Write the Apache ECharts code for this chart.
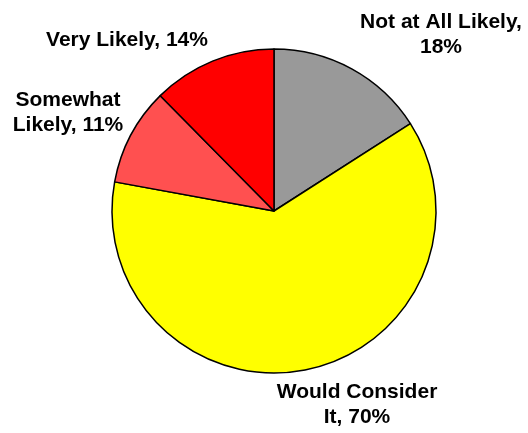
<!DOCTYPE html>
<html>
<head>
<meta charset="utf-8">
<script src="https://cdn.jsdelivr.net/npm/echarts@6/dist/echarts.min.js"></script>
<style>html,body{margin:0;padding:0;background:#fff;}#c{width:528px;height:433px;}</style>
</head>
<body>
<div id="c"></div>
<script>
var categories = ['Not at All Likely', 'Would Consider It', 'Somewhat Likely', 'Very Likely'];
var values = [18, 70, 11, 14];
var colors = ['#999999', '#FFFF00', '#FF5050', '#FF0000'];
var labelTexts = ['Not at All Likely,\n18%', 'Would Consider\nIt, 70%', 'Somewhat\nLikely, 11%', 'Very Likely, 14%'];
var labelPos = [[441, 35], [357, 405], [68, 113], [127, 40]];

var chart = echarts.init(document.getElementById('c'), null, {renderer: 'canvas'});
chart.setOption({
  animation: false,
  series: [{
    type: 'pie',
    center: [274, 211],
    radius: [0, 162],
    startAngle: 90,
    clockwise: true,
    data: categories.map(function (n, i) {
      return {name: n, value: values[i], itemStyle: {color: colors[i]}};
    }),
    itemStyle: {borderColor: '#000', borderWidth: 1.5},
    emphasis: {disabled: true},
    label: {
      show: true,
      position: 'outside',
      formatter: function (p) { return labelTexts[p.dataIndex]; },
      fontFamily: 'Liberation Sans, Arial, sans-serif',
      fontWeight: 'bold',
      fontSize: 21,
      lineHeight: 25,
      color: '#000',
      align: 'center',
      overflow: 'none',
      width: 300
    },
    labelLine: {show: false},
    labelLayout: function (p) {
      var pos = labelPos[p.dataIndex];
      return {x: pos[0], y: pos[1], align: 'center', verticalAlign: 'middle'};
    }
  }]
});
</script>
</body>
</html>
